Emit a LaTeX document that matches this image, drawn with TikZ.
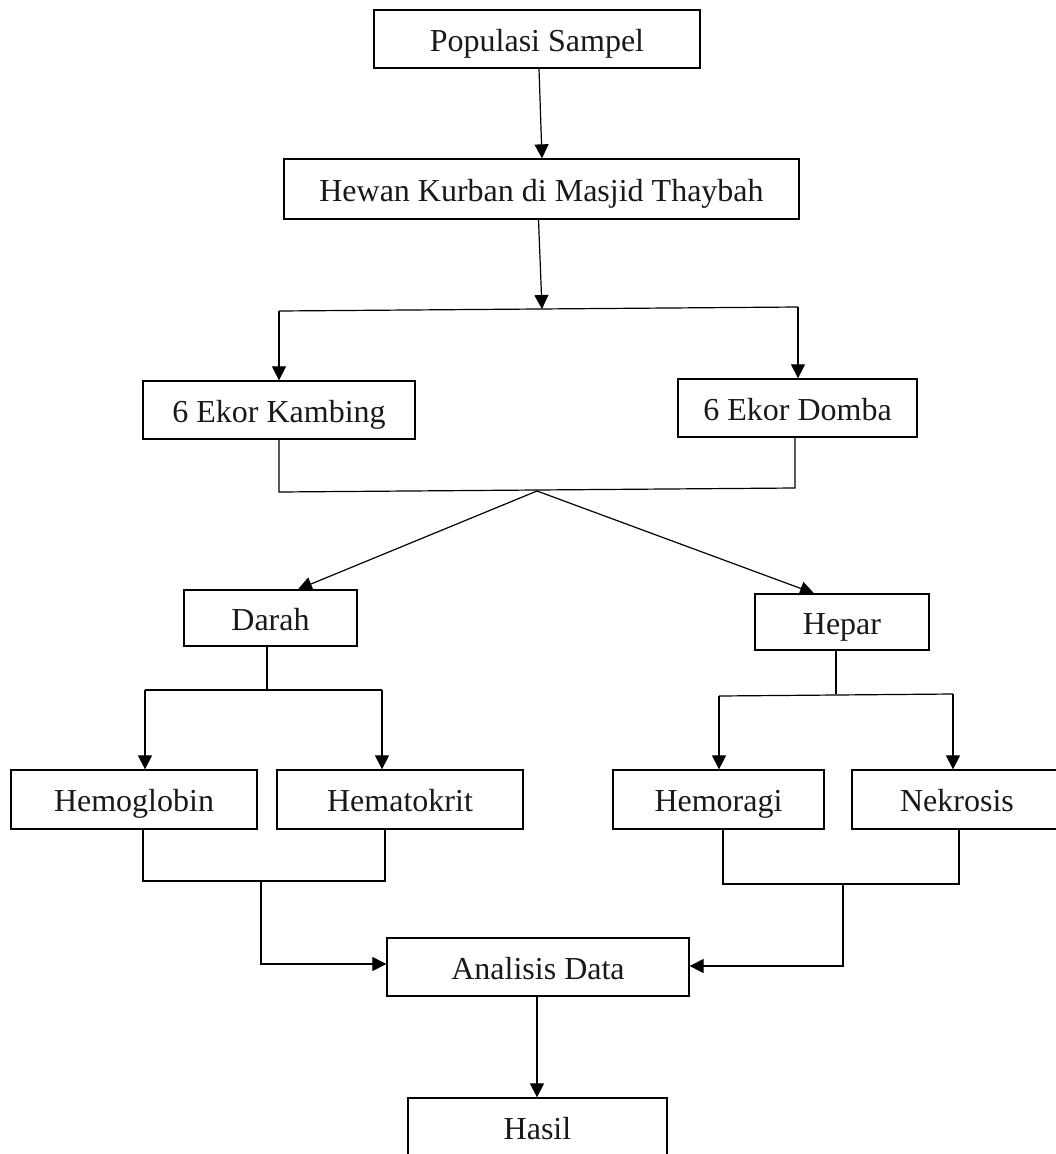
\documentclass[tikz,border=0pt]{standalone}
\usepackage{fontspec}
\setmainfont{Liberation Serif}
\usetikzlibrary{arrows.meta}
\begin{document}
\begin{tikzpicture}[x=1pt,y=-1pt,
  box/.style={draw=black, line width=1.3pt, inner sep=0pt, text height=30pt, text depth=6pt, font=\fontsize{32}{38}\selectfont, text=black!90},
  ln/.style={draw=black, line width=1.2pt},
  arr/.style={ln, -{Triangle[length=14pt,width=14pt]}}]
\path[use as bounding box, fill=white] (0,0) rectangle (1056,1154);
% nodes
\node[box, minimum width=326pt, minimum height=58pt] (pop) at (537,39) {Populasi Sampel};
\node[box, minimum width=515pt, minimum height=60pt] (hewan) at (541.5,189) {Hewan Kurban di Masjid Thaybah};
\node[box, minimum width=272pt, minimum height=58pt] (kambing) at (279,410) {6 Ekor Kambing};
\node[box, minimum width=239pt, minimum height=58pt] (domba) at (797.5,408) {6 Ekor Domba};
\node[box, minimum width=173pt, minimum height=56pt] (darah) at (270.5,618) {Darah};
\node[box, minimum width=174pt, minimum height=56pt] (hepar) at (842,622) {Hepar};
\node[box, minimum width=246pt, minimum height=59pt] (hemoglobin) at (134,799.5) {Hemoglobin};
\node[box, minimum width=246pt, minimum height=59pt] (hematokrit) at (400,799.5) {Hematokrit};
\node[box, minimum width=211pt, minimum height=59pt] (hemoragi) at (718.5,799.5) {Hemoragi};
\node[box, minimum width=210pt, minimum height=59pt] (nekrosis) at (957,799.5) {Nekrosis};
\node[box, minimum width=302pt, minimum height=58pt] (analisis) at (538,967) {Analisis Data};
\node[box, minimum width=259pt, minimum height=58pt] (hasil) at (537.5,1127) {Hasil};
% coordinates
\coordinate (sL) at (279,311);
\coordinate (sM) at (542,309);
\coordinate (sR) at (798,307);
\coordinate (kB) at (279,492);
\coordinate (dB) at (795,488);
\coordinate (j1) at (537,491);
\coordinate (daL) at (145,690);
\coordinate (daM) at (267,690);
\coordinate (daR) at (382,690);
\coordinate (heL) at (719,696);
\coordinate (heM) at (836,694);
\coordinate (heR) at (953,694);
\coordinate (bL1) at (143,881);
\coordinate (bL2) at (385,881);
\coordinate (bLm) at (261,881);
\coordinate (bLc) at (261,964);
\coordinate (bR1) at (723,884);
\coordinate (bR2) at (959,884);
\coordinate (bRm) at (843,884);
\coordinate (bRc) at (843,966);
% connectors
\draw[arr] ([xshift=2pt]pop.south) -- ([xshift=0.5pt]hewan.north);
\draw[arr] ([xshift=-3pt]hewan.south) -- (sM);
\draw[ln] (sL) -- (sR);
\draw[arr] (sL) -- (kambing.north);
\draw[arr] (sR) -- ([xshift=0.5pt]domba.north);
\draw[ln] (kambing.south) -- (kB) -- (dB) -- ([xshift=-2.5pt]domba.south);
\draw[arr] (j1) -- ([xshift=27.5pt]darah.north);
\draw[arr] (j1) -- ([xshift=-28pt]hepar.north);
\draw[ln] ([xshift=-3.5pt]darah.south) -- (daM);
\draw[ln] (daL) -- (daR);
\draw[arr] (daL) -- ([xshift=11pt]hemoglobin.north);
\draw[arr] (daR) -- ([xshift=-18pt]hematokrit.north);
\draw[ln] ([xshift=-6pt]hepar.south) -- (heM);
\draw[ln] (heL) -- (heR);
\draw[arr] (heL) -- ([xshift=0.5pt]hemoragi.north);
\draw[arr] (heR) -- ([xshift=-4pt]nekrosis.north);
\draw[ln] ([xshift=9pt]hemoglobin.south) -- (bL1) -- (bL2) -- ([xshift=-15pt]hematokrit.south);
\draw[arr] (bLm) -- (bLc) -- (analisis.west |- bLc);
\draw[ln] ([xshift=4.5pt]hemoragi.south) -- (bR1) -- (bR2) -- ([xshift=2pt]nekrosis.south);
\draw[arr] (bRm) -- (bRc) -- (analisis.east |- bRc);
\draw[arr] ([xshift=-1pt]analisis.south) -- ([xshift=-0.5pt]hasil.north);
\end{tikzpicture}
\end{document}
